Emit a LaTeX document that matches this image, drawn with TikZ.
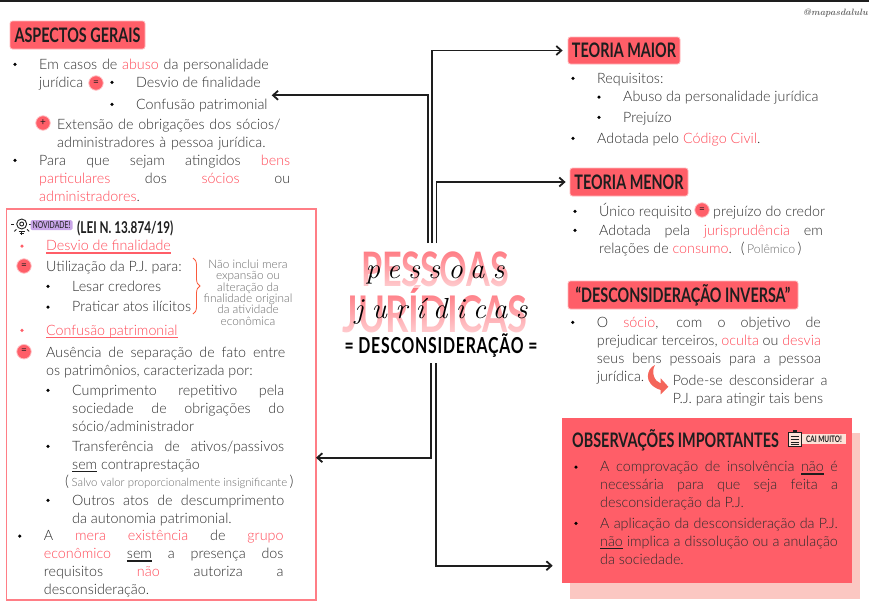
\documentclass[tikz,border=0pt]{standalone}
\usepackage{fontspec}
\usepackage{xcolor}
\usetikzlibrary{positioning,arrows.meta,decorations.pathreplacing,fadings}
\newfontfamily\bodyfont{Lato}[UprightFont=* Light]
\newfontfamily\signfont{Lato}
\newfontfamily\headfont{Lato}[FakeStretch=0.72]
\newfontfamily\handfont{Latin Modern Roman}[LetterSpace=29]
\definecolor{coral}{RGB}{255,94,104}
\definecolor{coraltext}{RGB}{255,70,84}
\definecolor{coralpale}{RGB}{251,199,194}
\definecolor{inkdark}{RGB}{30,30,30}
\definecolor{inkbody}{RGB}{45,45,45}
\definecolor{asidegray}{RGB}{105,105,105}
\definecolor{lilac}{RGB}{201,166,232}
\definecolor{cream}{RGB}{253,226,216}
\definecolor{bracered}{RGB}{250,90,60}
\definecolor{swoosh}{RGB}{244,101,90}
\newcommand{\red}[1]{\textcolor{coraltext}{#1}}
\newsavebox\ulbox
\newcommand{\ulined}[2][inkdark]{\sbox\ulbox{#2}\rlap{\textcolor{#1}{\rule[-2.6pt]{\wd\ulbox}{1.1pt}}}\usebox\ulbox}
\tikzfading[name=titlefade, top color=transparent!85, bottom color=transparent!30]
\begin{document}
\begin{tikzpicture}[
    x=1pt, y=-1pt,
    chip/.style={rectangle, rounded corners=2.5pt, fill=coral, draw=coral!45, line width=.8pt, inner sep=0pt,
        font=\headfont\bfseries\fontsize{20}{20}\selectfont, text=inkdark},
    item/.style={anchor=north west, yshift=12.6pt, inner sep=0pt, text=inkbody,
        font=\bodyfont\fontsize{14.3}{18}\selectfont, execute at begin node=\strut},
    just/.style={item, text width=#1, align=justify},
    flush/.style={item, text width=#1, align=left},
    bulletdot/.style={circle, fill=black, inner sep=0pt, minimum size=3.6pt},
    bul/.style={bulletdot, left=22pt of #1.north west, yshift=-8pt},
    sign/.style={circle, fill=coral, draw=coral!40, line width=.8pt, inner sep=0pt, minimum size=14.5pt,
        text=inkdark, font=\signfont\fontsize{10}{10}\selectfont},
    aside/.style={inner sep=0pt, text=asidegray, align=center, font=\bodyfont\fontsize{11.8}{11.3}\selectfont},
    link/.style={draw=inkdark, line width=1.8pt, -{Straight Barb[length=5pt,width=9pt]}},
    bigword/.style={inner sep=0pt, anchor=base, text=coral, font=\headfont\bfseries\fontsize{#1}{50}\selectfont},
    scriptword/.style={inner sep=0pt, anchor=base, text=black,
        font=\handfont\itshape\fontsize{29}{30}\selectfont}
]
    \useasboundingbox (0,0) rectangle (869,608);
    \fill[inkdark] (0,0) rectangle (869,2.2);
    \node[anchor=base east, inner sep=0pt, text=asidegray, font=\rmfamily\itshape\bfseries\fontsize{9.2}{11}\selectfont] (mark) at (868,15) {@mapasdalulu};

    % Center title
    \node[bigword=47.5] (pessoas) at (435,286) {PESSOAS};
    \node[bigword=50.5] (juridicas) at (435,332) {JURÍDICAS};
    \fill[white, path fading=titlefade] (335,248) rectangle (535,288);
    \fill[white, path fading=titlefade] (335,288) rectangle (535,334);
    \node[scriptword] (pessoasscript) at (435,278) {pessoas};
    \node[scriptword] (juridicasscript) at (441,318) {jurídicas};
    \node[inner sep=0pt, anchor=base, text=black, font=\headfont\bfseries\fontsize{22}{22}\selectfont\addfontfeature{LetterSpace=3.5}] (subtitle) at (441,353) {= DESCONSIDERAÇÃO =};

    % Chips and boxes
    \node[chip, minimum width=135pt, minimum height=28pt] (aspectos) at (77.5,35) {ASPECTOS GERAIS};
    \node[chip, minimum width=112pt, minimum height=27pt] (maior) at (624,50.5) {TEORIA MAIOR};
    \node[chip, minimum width=118pt, minimum height=28pt] (menor) at (629,182) {TEORIA MENOR};
    \node[chip, minimum width=230pt, minimum height=28pt] (inversa) at (683,295) {“DESCONSIDERAÇÃO INVERSA”};
    \node[draw=coral!80, line width=1.5pt, minimum width=309.5pt, minimum height=391pt, inner sep=0pt] (novidade) at (161.25,404.5) {};
    \node[fill=coralpale, minimum width=290pt, minimum height=166pt, inner sep=0pt] (obsshadow) at (715,516) {};
    \node[fill=coral, minimum width=290pt, minimum height=165pt, inner sep=0pt] (obsbox) at (707,500.5) {};

    % Arrows from the title
    \coordinate (stemleft) at (428.3,243);
    \coordinate (stemmid) at (432.3,243);
    \coordinate (stemright) at (436.5,243);
    \coordinate (lowleft) at (431.3,363);
    \coordinate (lowright) at (436.3,363);
    \coordinate (aspectosend) at (271.7,95.3);
    \coordinate (novidadeend) at (316,457.7);
    \coordinate (obsend) at (552.7,565.7);
    \draw[link] (stemleft) |- (aspectosend);
    \draw[link, shorten >=5pt] (stemmid) |- (maior.west);
    \draw[link, shorten >=4pt] (stemright) |- (menor.west);
    \draw[link] (lowleft) |- (novidadeend);
    \draw[link] (lowright) |- (obsend);

    % Aspectos gerais
    \node[flush=240pt] (a1) at (39,69) {Em casos de \red{abuso} da personalidade\\jurídica};
    \node[bul=a1] (a1dot) {};
    \node[sign] (a1eq) at (96,83) {=};
    \node[item] (a2) at (136,87) {Desvio de finalidade};
    \node[bul=a2] (a2dot) {};
    \node[item] (a3) at (136,109) {Confusão patrimonial};
    \node[bul=a3] (a3dot) {};
    \node[sign] (a4plus) at (43,123) {+};
    \node[flush=232pt] (a4) at (57,129) {Extensão de obrigações dos sócios/\\administradores à pessoa jurídica.};
    \node[just=251pt] (a5) at (39,165) {Para que sejam atingidos \red{bens}\linebreak \red{particulares} dos \red{sócios} ou\linebreak \red{administradores}.};
    \node[bul=a5] (a5dot) {};

    % Novidade
    \draw[line width=.9pt, inkdark] (21.7,224) circle (5pt);
    \draw[line width=.9pt, inkdark] (21.7,224) circle (2pt);
    \foreach \ang in {0,45,90,135,180} {
        \draw[line width=.8pt, inkdark] (21.7,224) ++(\ang:-7.5pt) -- ++(\ang:-3pt);
    }
    \draw[line width=.9pt, inkdark] (18.5,231) -- (25,231) (19.5,233.5) -- (24,233.5);
    \node[fill=lilac, rounded corners=1.5pt, inner sep=0pt, minimum width=42pt, minimum height=10pt, text=inkdark,
        font=\headfont\fontsize{9.5}{10}\selectfont] (novtag) at (51.5,225) {NOVIDADE!};
    \node[inner sep=0pt, anchor=west, text=inkdark, font=\headfont\bfseries\fontsize{16.3}{17}\selectfont] (lei) at (77,228) {(LEI N. 13.874/19)};
    \node[item] (n1) at (46,250.7) {\ulined[coral]{\red{Desvio de finalidade}}};
    \node[bul=n1, fill=coral] (n1dot) {};
    \node[sign] (n2eq) at (24,266) {=};
    \node[item] (n2) at (46,271.7) {Utilização da P.J. para:};
    \node[item] (n3) at (72,291) {Lesar credores};
    \node[bul=n3] (n3dot) {};
    \node[item] (n4) at (72,311.7) {Praticar atos ilícitos};
    \node[bul=n4] (n4dot) {};
    \coordinate (bracetop) at (193,258);
    \coordinate (bracebottom) at (193,314);
    \draw[bracered, line width=.8pt, decorate, decoration={brace, amplitude=7pt}] (bracetop) -- (bracebottom);
    \node[aside, anchor=north] (n3note) at (248,259.8) {Não inclui mera\\expansão ou\\alteração da\\finalidade original\\da atividade\\econômica};
    \node[item] (n5) at (46,335) {\ulined[coral]{\red{Confusão patrimonial}}};
    \node[bul=n5, fill=coral] (n5dot) {};
    \node[sign] (n6eq) at (24,351.7) {=};
    \node[just=239pt] (n6) at (46,357) {Ausência de separação de fato entre\linebreak os patrimônios, caracterizada por:};
    \node[just=212pt] (n7) at (72,395) {Cumprimento repetitivo pela\linebreak sociedade de obrigações do\linebreak sócio/administrador};
    \node[bul=n7] (n7dot) {};
    \node[just=212pt] (n8) at (72,451) {Transferência de ativos/passivos\linebreak \ulined{sem} contraprestação};
    \node[bul=n8] (n8dot) {};
    \node[item] (n9) at (65,486.7) {\fontsize{15}{18}\selectfont(\,{\color{asidegray}\fontsize{11.4}{18}\selectfont Salvo valor proporcionalmente insignificante}\,)};
    \node[just=212pt] (n10) at (72,505) {Outros atos de descumprimento\linebreak da autonomia patrimonial.};
    \node[bul=n10] (n10dot) {};
    \node[just=239.6pt] (n11) at (43.7,540.7) {A \red{mera} \red{existência} de \red{grupo}\linebreak \red{econômico} \ulined{sem} a presença dos\linebreak requisitos \red{não} autoriza a\linebreak desconsideração.};
    \node[bul=n11] (n11dot) {};

    % Teoria maior
    \node[item] (m1) at (597,83) {Requisitos:};
    \node[bul=m1] (m1dot) {};
    \node[item] (m2) at (623,101.7) {Abuso da personalidade jurídica};
    \node[bul=m2] (m2dot) {};
    \node[item] (m3) at (623,122) {Prejuízo};
    \node[bul=m3] (m3dot) {};
    \node[item] (m4) at (597,143) {Adotada pelo \red{Código Civil}.};
    \node[bul=m4] (m4dot) {};

    % Teoria menor
    \node[item] (t1) at (599,216) {Único requisito};
    \node[bul=t1] (t1dot) {};
    \node[sign] (t1eq) at (702,210) {=};
    \node[item] (t2) at (713,216) {prejuízo do credor};
    \node[just=223.7pt] (t3) at (599,235) {Adotada pela \red{jurisprudência} em\linebreak relações de \red{consumo}.\hspace{9pt}\fontsize{15}{18}\selectfont(\,{\color{asidegray}\fontsize{12.3}{18}\selectfont Polêmico}\,)};
    \node[bul=t3] (t3dot) {};

    % Desconsideracao inversa
    \node[just=224pt] (i1) at (596.7,327) {O \red{sócio}, com o objetivo de\linebreak prejudicar terceiros, \red{oculta} ou \red{desvia}\linebreak seus bens pessoais para a pessoa\linebreak jurídica.};
    \node[bul=i1] (i1dot) {};
    \fill[swoosh] (655,365) .. controls (647,368) and (642,384) .. (660.7,390) -- (660.7,394.3) -- (668.3,386.7) -- (660.7,378.3) -- (660.7,383.5) .. controls (654,381) and (651,372) .. (655,365);
    \node[just=154.5pt] (i2) at (672.7,385) {Pode-se desconsiderar a\linebreak P.J. para atingir tais bens};

    % Observacoes
    \node[inner sep=0pt, anchor=base west, text=inkdark, font=\headfont\bfseries\fontsize{20}{22}\selectfont] (obstitle) at (572,447) {OBSERVAÇÕES IMPORTANTES};
    \draw[fill=cream, draw=inkdark, line width=.9pt] (788.3,432) rectangle (801,446.7);
    \fill[inkdark] (792.5,429.5) rectangle (797,433);
    \foreach \rowy in {436,439,442,444.5} {
        \draw[inkdark, line width=.5pt] (790.5,\rowy) -- (799,\rowy);
    }
    \node[fill=cream, inner sep=0pt, minimum width=44pt, minimum height=10.5pt, text=inkdark,
        font=\headfont\bfseries\fontsize{9}{10}\selectfont] (caimuito) at (824,439.2) {CAI MUITO!};
    \node[just=237.7pt] (o1) at (600,471.7) {A comprovação de insolvência \ulined{não} é\linebreak necessária para que seja feita a\linebreak desconsideração da P.J.};
    \node[bul=o1] (o1dot) {};
    \node[just=237.7pt] (o2) at (600,528) {A aplicação da desconsideração da P.J.\linebreak \ulined{não} implica a dissolução ou a anulação\linebreak da sociedade.};
    \node[bul=o2] (o2dot) {};
\end{tikzpicture}
\end{document}
